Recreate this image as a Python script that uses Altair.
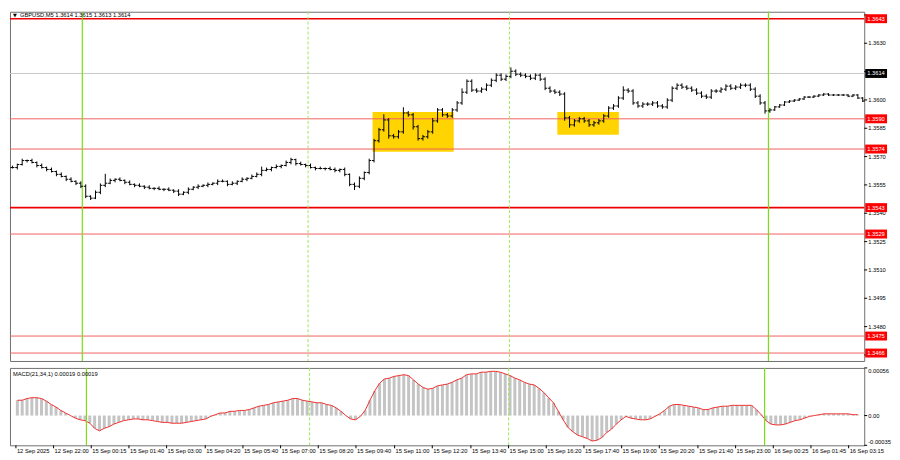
import altair as alt
import pandas as pd

# ---------------- data ----------------
close = [
    1.35642, 1.35658, 1.35679, 1.35679, 1.35669, 1.35653, 1.35642, 1.35632, 1.35621, 1.35606,
    1.35595, 1.35580, 1.35569, 1.35559, 1.35543, 1.35490, 1.35480, 1.35511, 1.35548, 1.35559,
    1.35574, 1.35580, 1.35574, 1.35564, 1.35553, 1.35548, 1.35543, 1.35538, 1.35532, 1.35532,
    1.35527, 1.35527, 1.35522, 1.35517, 1.35501, 1.35511, 1.35527, 1.35538, 1.35543, 1.35548,
    1.35553, 1.35559, 1.35569, 1.35569, 1.35553, 1.35559, 1.35569, 1.35580, 1.35585, 1.35595,
    1.35606, 1.35627, 1.35632, 1.35642, 1.35648, 1.35653, 1.35669, 1.35684, 1.35663, 1.35658,
    1.35653, 1.35642, 1.35637, 1.35637, 1.35637, 1.35632, 1.35627, 1.35632, 1.35606, 1.35553,
    1.35543, 1.35585, 1.35616, 1.35679, 1.35784, 1.35842, 1.35894, 1.35810, 1.35805, 1.35831,
    1.35931, 1.35921, 1.35858, 1.35795, 1.35805, 1.35831, 1.35889, 1.35947, 1.35921, 1.35915,
    1.35947, 1.35984, 1.36041, 1.36099, 1.36052, 1.36047, 1.36057, 1.36078, 1.36104, 1.36131,
    1.36110, 1.36125, 1.36152, 1.36136, 1.36131, 1.36125, 1.36115, 1.36131, 1.36110, 1.36062,
    1.36047, 1.36041, 1.36031, 1.35905, 1.35868, 1.35889, 1.35900, 1.35889, 1.35868, 1.35879,
    1.35889, 1.35915, 1.35957, 1.35968, 1.36010, 1.36052, 1.36047, 1.35984, 1.35968, 1.35978,
    1.35978, 1.35984, 1.35968, 1.35963, 1.35999, 1.36062, 1.36078, 1.36068, 1.36062, 1.36052,
    1.36036, 1.36020, 1.36015, 1.36047, 1.36047, 1.36057, 1.36073, 1.36062, 1.36068, 1.36078,
    1.36078, 1.36057, 1.36020, 1.35984, 1.35942, 1.35947, 1.35963, 1.35973, 1.35989, 1.35994,
    1.35999, 1.36005, 1.36015, 1.36015, 1.36020, 1.36026, 1.36031, 1.36026, 1.36026, 1.36026,
    1.36026, 1.36020, 1.36026, 1.36010, 1.35994,
]
# wick beyond the bar body, in pips
hi_ext = [
    1, 0.5, 1, 0.5, 1, 0.5, 1, 0.5, 1, 0.5, 1, 0.5, 1, 0.5, 1, 1, 0.5, 1, 1, 5, 1, 0.5, 1, 0.5, 1,
    0.5, 1, 0.5, 1, 0.5, 1, 0.5, 1, 0.5, 1, 0.5, 1, 0.5, 1, 0.5, 1, 0.5, 1, 1, 0.5, 1, 0.5, 1, 0.5, 1,
    1, 2, 1, 0.5, 1, 0.5, 1, 1, 0.5, 1, 0.5, 1, 0.5, 1, 0.5, 1, 1, 0.5, 1, 0.5, 1, 1, 0.5, 1, 1,
    1, 3, 1, 1, 1, 3, 1, 1, 1, 1, 1, 1.5, 1, 1, 1, 1, 1, 2, 1, 1, 1, 1, 1, 1, 1,
    1, 1, 2, 1, 1, 1, 1, 1, 1, 1, 1, 1, 1, 1, 1, 1, 1, 1, 1, 1, 1, 1, 1, 1, 1,
    2, 1, 1, 1, 1, 1, 1, 1, 1, 1, 1, 1, 1, 1, 1, 1, 1, 1, 1, 1, 1, 1, 1, 1, 1,
    1, 1, 1, 1, 1, 1, 0.5, 0.5, 0.5, 0.5, 0.5, 0.5, 0.5, 0.5, 0.5, 0.5, 0.5, 0.5, 0.5, 0.5, 0.5, 0.5, 0.5, 0.5, 0.5,
]
lo_ext = [
    0.5, 1, 0.5, 1, 0.5, 1, 0.5, 1, 0.5, 1, 0.5, 1, 0.5, 1, 1, 1, 1, 0.5, 1, 1, 0.5, 1, 0.5, 1, 0.5,
    1, 0.5, 1, 0.5, 1, 0.5, 1, 0.5, 1, 1, 0.5, 1, 0.5, 1, 0.5, 1, 0.5, 1, 0.5, 1, 0.5, 1, 0.5, 1, 0.5,
    0.5, 1, 0.5, 1, 0.5, 1, 0.5, 1, 1, 0.5, 1, 0.5, 1, 0.5, 1, 0.5, 1, 1, 1, 1, 2, 1, 1, 1, 1,
    1, 1, 1.5, 1, 1, 1, 1, 1.5, 1, 1, 1, 1, 1, 1, 1, 1, 1, 1, 1, 1, 1, 1, 1, 1, 1,
    1, 1, 1, 1, 1, 1, 1, 1, 1, 1, 1, 1, 1, 1.5, 1.5, 1, 1, 1, 1, 1, 1, 1, 1, 1, 1,
    1, 1, 1, 1, 1, 1, 1, 1, 1, 1, 1, 1, 1, 1, 1, 1, 1, 1, 1, 1, 1, 1, 1, 1, 1,
    1, 1, 1, 1, 1.5, 1, 0.5, 0.5, 0.5, 0.5, 0.5, 0.5, 0.5, 0.5, 0.5, 0.5, 0.5, 0.5, 0.5, 0.5, 0.5, 0.5, 0.5, 0.5, 0.5,
]
# MACD(21,34,1) main value, in units of 0.00001
macd_e5 = [
    18, 18, 20, 21, 21, 20, 17, 13, 10, 6, 3, 0, -3, -5, -6, -9, -15, -18, -15, -13,
    -10, -8, -6, -5, -4, -4, -5, -5, -6, -7, -8, -8, -9, -9, -9, -8, -7, -6, -5, -4,
    -1, 1, 3, 3, 5, 5, 6, 6, 7, 9, 11, 12, 13, 15, 16, 17, 18, 20, 20, 18,
    17, 16, 15, 15, 13, 12, 9, 5, 0, -4, -5, -1, 6, 18, 29, 38, 43, 44, 46, 47,
    48, 47, 42, 37, 33, 31, 32, 35, 36, 37, 39, 42, 44, 48, 49, 49, 51, 51, 52, 52,
    51, 49, 47, 44, 42, 39, 37, 36, 32, 27, 21, 15, 5, -5, -14, -19, -23, -25, -27, -30,
    -29, -26, -20, -16, -10, -5, -1, -3, -4, -5, -5, -4, -1, 2, 6, 11, 13, 13, 12, 11,
    10, 9, 7, 7, 9, 10, 11, 11, 12, 12, 12, 12, 12, 7, 1, -6, -10, -11, -11, -10,
    -8, -6, -5, -3, -1, 0, 1, 2, 2, 2, 2, 2, 2, 1, 1,
]

red_levels = [1.3643, 1.3590, 1.3574, 1.3543, 1.3529, 1.3475, 1.3466]
red_strong = [True, False, False, True, False, False, False]
last_price = 1.3614
price_ticks = [1.3465, 1.3480, 1.3495, 1.3510, 1.3525, 1.3540, 1.3555, 1.3570,
               1.3585, 1.3600, 1.3615, 1.3630, 1.3645]
price_tick_labels = ["", "1.3480", "1.3495", "1.3510", "1.3525", "1.3540", "1.3555", "1.3570",
                     "1.3585", "1.3600", "", "1.3630", ""]
macd_min = -0.00035
macd_max = 0.00056

# bar positions (bar index) of the vertical markers and zones
day_lines = [14.3, 154.7]
session_lines = [60.5, 101.7]
zone_start = [73.7, 111.5]
zone_end = [90.3, 124.1]
zone_top = [1.35936, 1.35936]
zone_bottom = [1.35726, 1.35815]

time_ticks = [-0.3, 7.5, 15.3, 23.1, 30.9, 38.9, 46.7, 54.5, 62.3, 70.1, 78.1, 85.9,
              93.9, 101.7, 109.5, 117.3, 125.1, 132.9, 140.9, 148.7, 156.5, 164.3, 172.1]
time_labels = ["12 Sep 2025", "12 Sep 22:00", "15 Sep 00:15", "15 Sep 01:40", "15 Sep 03:00",
               "15 Sep 04:20", "15 Sep 05:40", "15 Sep 07:00", "15 Sep 08:20", "15 Sep 09:40",
               "15 Sep 11:00", "15 Sep 12:20", "15 Sep 13:40", "15 Sep 15:00", "15 Sep 16:20",
               "15 Sep 17:40", "15 Sep 19:00", "15 Sep 20:20", "15 Sep 21:40", "15 Sep 23:00",
               "16 Sep 00:25", "16 Sep 01:45", "16 Sep 03:15"]

title_text = "GBPUSD,M5  1.3614 1.3615 1.3613 1.3614"
macd_text = "MACD(21,34,1) 0.00019 0.00019"

# ---------------- tables ----------------
n = len(close)
opens = [close[0]] + close[:-1]
bars = pd.DataFrame({"idx": list(range(n)), "open": opens, "close": close})
bars["high"] = [max(o, c) + h * 0.0001 for o, c, h in zip(opens, close, hi_ext)]
bars["low"] = [min(o, c) - l * 0.0001 for o, c, l in zip(opens, close, lo_ext)]
bars["xl"] = bars["idx"] - 0.42
bars["xr"] = bars["idx"] + 0.42

macd_df = pd.DataFrame({"idx": list(range(n)), "m": [v / 1e5 for v in macd_e5], "zero": 0.0})

levels_df = pd.DataFrame({"price": red_levels, "strong": red_strong,
                          "label": [f"{p:.4f}" for p in red_levels]})
last_df = pd.DataFrame({"price": [last_price], "label": [f"{last_price:.4f}"]})
pticks_df = pd.DataFrame({"price": price_ticks, "label": price_tick_labels})
vl_df = pd.DataFrame({"idx": day_lines + session_lines,
                      "kind": ["day"] * len(day_lines) + ["session"] * len(session_lines)})
zones_df = pd.DataFrame({"x0": zone_start, "x1": zone_end, "top": zone_top, "bot": zone_bottom})
time_df = pd.DataFrame({"idx": time_ticks, "label": time_labels})
mmax_df = pd.DataFrame({"m": [macd_max], "label": [f"{macd_max:.5f}"]})
mzero_df = pd.DataFrame({"m": [0.0], "label": ["0.00"]})
mmin_df = pd.DataFrame({"m": [macd_min], "label": [f"{macd_min:.5f}"]})

# ---------------- layout ----------------
W = 861
H1 = 352
H2 = 78
FONT = "Liberation Sans"
FS = 5.8
INK = "#000000"

xsc = alt.Scale(domain=[-0.5, 174.3], nice=False, zero=False)
ysc = alt.Scale(domain=[1.346180, 1.364668], nice=False, zero=False)
msc = alt.Scale(domain=[macd_min, macd_max], nice=False, zero=False)

NOX = alt.X("idx:Q", scale=xsc, axis=None)


def PY(field):
    return alt.Y(field, scale=ysc, axis=None)


def MY(field):
    return alt.Y(field, scale=msc, axis=None)


zones = alt.Chart(zones_df).mark_rect(color="#FFD400").encode(
    x=alt.X("x0:Q", scale=xsc, axis=None), x2="x1:Q", y=PY("top:Q"), y2="bot:Q")

last_line = alt.Chart(last_df).mark_rule(color="#c8c8c8", strokeWidth=1).encode(y=PY("price:Q"))

red_lines = alt.Chart(levels_df).mark_rule().encode(
    y=PY("price:Q"),
    color=alt.Color("strong:N", scale=alt.Scale(domain=[True, False], range=["#ee0000", "#f26060"]),
                    legend=None),
    strokeWidth=alt.StrokeWidth("strong:N", scale=alt.Scale(domain=[True, False], range=[1.6, 1]),
                                legend=None))


def vlines():
    solid = alt.Chart(vl_df).transform_filter("datum.kind == 'day'").mark_rule(
        color="#78e010", strokeWidth=1.2).encode(x=NOX)
    dashed = alt.Chart(vl_df).transform_filter("datum.kind == 'session'").mark_rule(
        color="#9be85a", strokeWidth=1, strokeDash=[3, 2]).encode(x=NOX)
    return solid + dashed


hl = alt.Chart(bars).mark_rule(color=INK, strokeWidth=1).encode(x=NOX, y=PY("low:Q"), y2="high:Q")
op = alt.Chart(bars).mark_rule(color=INK, strokeWidth=1).encode(
    x=alt.X("xl:Q", scale=xsc, axis=None), x2="idx:Q", y=PY("open:Q"))
cl = alt.Chart(bars).mark_rule(color=INK, strokeWidth=1).encode(x=NOX, x2="xr:Q", y=PY("close:Q"))

# right-hand price scale
p_tick = alt.Chart(pticks_df).mark_rule(color=INK, strokeWidth=1).encode(
    x=alt.value(W), x2=alt.value(W + 3), y=PY("price:Q"))
p_lab = alt.Chart(pticks_df).mark_text(align="left", baseline="middle", font=FONT, fontSize=FS,
                                       color=INK).encode(
    x=alt.value(W + 4), y=PY("price:Q"), text="label:N")

box_red = alt.Chart(levels_df).mark_tick(orient="horizontal", size=22, thickness=9,
                                         color="#ff0000", opacity=1).encode(
    x=alt.value(W + 12), y=PY("price:Q"))
txt_red = alt.Chart(levels_df).mark_text(align="left", baseline="middle", font=FONT, fontSize=FS,
                                         color="#ffffff").encode(
    x=alt.value(W + 3), y=PY("price:Q"), text="label:N")
box_last = alt.Chart(last_df).mark_tick(orient="horizontal", size=22, thickness=9,
                                        color=INK, opacity=1).encode(
    x=alt.value(W + 12), y=PY("price:Q"))
txt_last = alt.Chart(last_df).mark_text(align="left", baseline="middle", font=FONT, fontSize=FS,
                                        color="#ffffff").encode(
    x=alt.value(W + 3), y=PY("price:Q"), text="label:N")

title_df = pd.DataFrame({"t": [title_text], "tri": ["▼"]})
title_mark = alt.Chart(title_df).mark_text(align="left", baseline="middle", font=FONT, fontSize=FS,
                                           color=INK).encode(
    x=alt.value(10), y=alt.value(3.5), text="t:N")
tri_mark = alt.Chart(title_df).mark_text(align="left", baseline="middle", font="DejaVu Sans",
                                         fontSize=5, color=INK).encode(
    x=alt.value(3), y=alt.value(3.5), text="tri:N")

main = alt.layer(zones, last_line, red_lines, vlines(), hl, op, cl, p_tick, p_lab,
                 box_red, txt_red, box_last, txt_last, tri_mark, title_mark).properties(
    width=W, height=H1)

# ---------------- MACD panel ----------------
hist = alt.Chart(macd_df).mark_bar(size=3, color="#c4c4c4").encode(
    x=NOX, y=MY("m:Q"), y2="zero:Q")
sig = alt.Chart(macd_df).mark_line(color="#f03030", strokeWidth=1).encode(x=NOX, y=MY("m:Q"))


def m_scale(df, baseline):
    tick = alt.Chart(df).mark_rule(color=INK, strokeWidth=1).encode(
        x=alt.value(W), x2=alt.value(W + 3), y=MY("m:Q"))
    lab = alt.Chart(df).mark_text(align="left", baseline=baseline, font=FONT, fontSize=FS,
                                  color=INK).encode(
        x=alt.value(W + 4), y=MY("m:Q"), text="label:N")
    return tick + lab


macd_lbl = alt.Chart(pd.DataFrame({"t": [macd_text]})).mark_text(
    align="left", baseline="middle", font=FONT, fontSize=FS, color=INK).encode(
    x=alt.value(3), y=alt.value(6), text="t:N")
t_tick = alt.Chart(time_df).mark_rule(color=INK, strokeWidth=1).encode(
    x=NOX, y=alt.value(H2), y2=alt.value(H2 + 3))
time_txt = alt.Chart(time_df).mark_text(
    align="left", baseline="top", font=FONT, fontSize=FS, color=INK, dx=1).encode(
    x=NOX, y=alt.value(H2 + 3), text="label:N")

lower = alt.layer(hist, sig, vlines(), m_scale(mmax_df, "top"), m_scale(mzero_df, "middle"),
                  m_scale(mmin_df, "bottom"), macd_lbl, t_tick, time_txt).properties(
    width=W, height=H2)

chart = alt.vconcat(main, lower, spacing=3).properties(
    padding=0,
    background="#ffffff",
).configure_view(stroke="#707070", strokeWidth=1).resolve_scale(color="independent",
                                                               strokeWidth="independent")

chart.save("out.html", embed_options={"renderer": "svg", "actions": False})
